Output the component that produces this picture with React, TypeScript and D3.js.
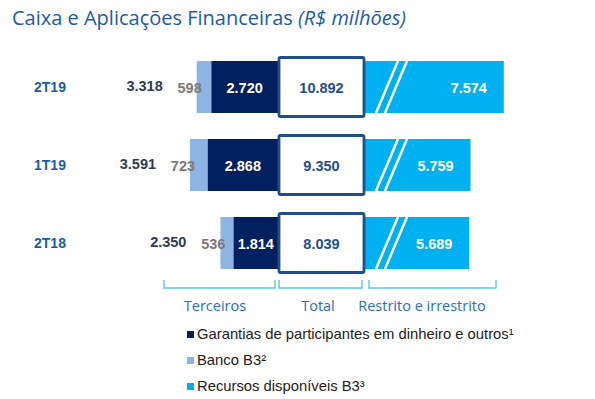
import React from "react";
import * as d3 from "d3";

// quarters, top to bottom
const periods = ["2T19", "1T19", "2T18"];
// Terceiros
const garantias = [2720, 2868, 1814];
const bancoB3 = [598, 723, 536];
const terceirosTotal = [3318, 3591, 2350];
// Total box
const totals = [10892, 9350, 8039];
// Restrito e irrestrito
const recursos = [7574, 5759, 5689];

const fmt = (v: number) => d3.format(",")(v).replace(/,/g, ".");

const NAVY = "#002060";
const LIGHT = "#8eb4e3";
const CYAN = "#00b0f0";
const BLUE = "#1c5aa8";
const BOX = "#1f4e8c";

const sans = "'Liberation Sans', Arial, sans-serif";
const soft = "'Open Sans', 'Noto Sans', sans-serif";

export default function App() {
  const anchor = 278; // left edge of total box
  const boxW = 87;
  const barH = 52;

  const y = d3.scalePoint<string>().domain(periods).range([87, 243]);
  // stacked Terceiros grows leftwards from the box
  const xs = d3.scaleLinear().domain([0, 4000]).range([0, 98]);
  // broken axis for Recursos
  const xc = d3.scaleLinear().domain([0, 8000]).range([0, 146.6]);

  const cyanX0 = anchor + boxW;

  const brackets = [
    { x0: 164, x1: 275, tx: 215, label: "Terceiros" },
    { x0: 279, x1: 362, tx: 318, label: "Total" },
    { x0: 369, x1: 496, tx: 422, label: "Restrito e irrestrito" },
  ];

  const legend = [
    { color: NAVY, text: "Garantias de participantes em dinheiro e outros¹" },
    { color: LIGHT, text: "Banco B3²" },
    { color: CYAN, text: "Recursos disponíveis B3³" },
  ];

  return (
    <svg width={595} height={399} style={{ position: "absolute", left: 0, top: 0 }}>
      <rect width={595} height={399} fill="#fff" />
      <text x={12} y={25} fill={BLUE} fontFamily={soft} fontSize={20}>
        Caixa e Aplicações Financeiras <tspan fontStyle="italic">(R$ milhões)</tspan>
      </text>

      {periods.map((p, i) => {
        const cy = y(p)!;
        const top = cy - barH / 2;
        const dW = xs(garantias[i]);
        const lW = xs(bancoB3[i]);
        const darkX = anchor - dW;
        const lightX = darkX - lW;
        const cW = xc(recursos[i]);
        const cEnd = cyanX0 + cW;
        const b0 = cyanX0 + 11;
        return (
          <g key={p}>
            <text x={50} y={cy + 5} textAnchor="middle" fill={BLUE} fontFamily={sans} fontWeight="bold" fontSize={14}>
              {p}
            </text>
            <rect x={lightX} y={top} width={lW} height={barH} fill={LIGHT} />
            <rect x={darkX} y={top} width={dW} height={barH} fill={NAVY} />
            <text x={lightX + 5} y={cy + 5.5} textAnchor="end" fill="#7a7a7a" fontFamily={sans} fontWeight="bold" fontSize={14.5}>
              {fmt(bancoB3[i])}
            </text>
            <text x={lightX - 34} y={cy + 3.5} textAnchor="end" fill="#2e3b55" fontFamily={sans} fontWeight="bold" fontSize={14.5}>
              {fmt(terceirosTotal[i])}
            </text>
            <text x={darkX + dW / 2} y={cy + 5.5} textAnchor="middle" fill="#fff" fontFamily={sans} fontWeight="bold" fontSize={14.5}>
              {fmt(garantias[i])}
            </text>

            <rect x={cyanX0} y={top} width={cW} height={barH} fill={CYAN} />
            <line x1={b0} y1={top + barH} x2={b0 + 22} y2={top} stroke="#fff" strokeWidth={2.5} />
            <line x1={b0 + 9} y1={top + barH} x2={b0 + 31} y2={top} stroke="#fff" strokeWidth={2.5} />
            <text x={cEnd - 35} y={cy + 5.5} textAnchor="middle" fill="#fff" fontFamily={sans} fontWeight="bold" fontSize={14.5}>
              {fmt(recursos[i])}
            </text>

            <rect x={anchor + 1} y={top - 3.5} width={boxW - 2} height={barH + 7} rx={1.5} fill="#fff" stroke={BOX} strokeWidth={2.8} />
            <text x={anchor + boxW / 2} y={cy + 5.5} textAnchor="middle" fill={BOX} fontFamily={sans} fontWeight="bold" fontSize={14.5}>
              {fmt(totals[i])}
            </text>
          </g>
        );
      })}

      {brackets.map((b) => (
        <g key={b.label}>
          <path d={`M${b.x0},280 V288 H${b.x1} V280`} fill="none" stroke="#5bc3ea" strokeWidth={1.4} />
          <text x={b.tx} y={311} textAnchor="middle" fill="#2a6ebb" fontFamily={soft} fontSize={14.5}>
            {b.label}
          </text>
        </g>
      ))}

      {legend.map((l, i) => (
        <g key={l.text} transform={`translate(187, ${331 + i * 26})`}>
          <rect width={7} height={7} fill={l.color} />
          <text x={10} y={7.5} fill="#222" fontFamily={sans} fontSize={14.8}>
            {l.text}
          </text>
        </g>
      ))}
    </svg>
  );
}
